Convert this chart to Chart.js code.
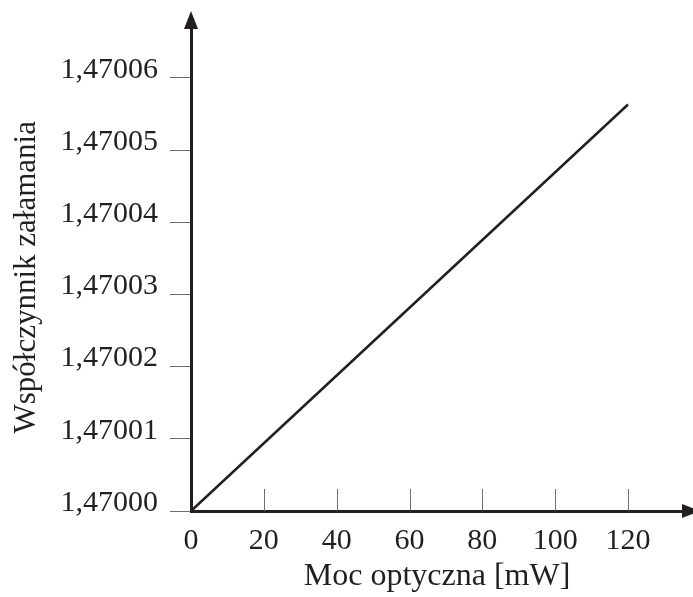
<!DOCTYPE html>
<html>
<head>
<meta charset="utf-8">
<script src="https://cdn.jsdelivr.net/npm/chart.js@4"></script>
<style>
  html, body { margin: 0; padding: 0; background: #fff; }
  #wrap { width: 693px; height: 597px; }
</style>
</head>
<body>
<div id="wrap"><canvas id="chart" width="693" height="597"></canvas></div>
<script>
/* -------------------------
   Data
   ------------------------- */
const powerMw = [0, 120];
const refIndex = [1.47000, 1.4700563];

const xTicks = [0, 20, 40, 60, 80, 100, 120];
const yTicks = [1.47000, 1.47001, 1.47002, 1.47003, 1.47004, 1.47005, 1.47006];
const yTickLabels = ['1,47000', '1,47001', '1,47002', '1,47003', '1,47004', '1,47005', '1,47006'];

const xMin = 0, xMax = 135.1;
const yMin = 1.47000, yMax = 1.4700669;

const ink = '#231f20';
const tickGray = '#6d6e71';
const serif = 'Liberation Serif';

/* -------------------------
   Arrowheads + inward x ticks
   ------------------------- */
const axisExtras = {
  id: 'axisExtras',
  afterDraw(chart) {
    const { ctx, chartArea: a, scales } = chart;
    const xs = scales.x;
    ctx.save();

    // small ticks pointing up from the x axis
    ctx.strokeStyle = tickGray;
    ctx.lineWidth = 1;
    ctx.beginPath();
    xs.ticks.forEach(t => {
      if (t.value === 0) return;
      const px = Math.round(xs.getPixelForValue(t.value)) + 0.5;
      ctx.moveTo(px, a.bottom);
      ctx.lineTo(px, a.bottom - 22);
    });
    ctx.stroke();

    // arrowheads
    ctx.fillStyle = ink;
    ctx.beginPath();
    ctx.moveTo(a.left, a.top - 17);
    ctx.lineTo(a.left - 7, a.top + 1);
    ctx.lineTo(a.left + 7, a.top + 1);
    ctx.closePath();
    ctx.fill();

    ctx.beginPath();
    ctx.moveTo(a.right + 17, a.bottom);
    ctx.lineTo(a.right - 1, a.bottom - 7);
    ctx.lineTo(a.right - 1, a.bottom + 7);
    ctx.closePath();
    ctx.fill();

    ctx.restore();
  }
};

const points = powerMw.map((p, i) => ({ x: p, y: refIndex[i] }));

new Chart(document.getElementById('chart'), {
  type: 'line',
  data: {
    datasets: [{
      data: points,
      borderColor: ink,
      borderWidth: 2.5,
      pointRadius: 0,
      tension: 0,
      clip: false
    }]
  },
  options: {
    responsive: false,
    animation: false,
    layout: { padding: { top: 26, right: 10, bottom: 0, left: 0 } },
    plugins: {
      legend: { display: false },
      tooltip: { enabled: false }
    },
    scales: {
      x: {
        type: 'linear',
        min: xMin,
        max: xMax,
        afterBuildTicks: (scale) => { scale.ticks = xTicks.map(v => ({ value: v })); },
        afterFit: (scale) => { scale.height = 86; },
        grid: { display: false, drawTicks: false, tickLength: 0 },
        border: { display: true, color: ink, width: 3 },
        ticks: {
          color: ink,
          padding: 12,
          maxRotation: 0,
          font: { family: serif, size: 30 },
          callback: (v) => String(v)
        },
        title: {
          display: true,
          text: 'Moc optyczna [mW]',
          color: ink,
          font: { family: serif, size: 32 },
          padding: { top: 0, bottom: 1 }
        }
      },
      y: {
        type: 'linear',
        min: yMin,
        max: yMax,
        afterBuildTicks: (scale) => { scale.ticks = yTicks.map(v => ({ value: v })); },
        afterFit: (scale) => { scale.width = 191; },
        grid: {
          drawOnChartArea: false,
          drawTicks: true,
          tickLength: 21,
          color: tickGray,
          lineWidth: 1
        },
        border: { display: true, color: ink, width: 3 },
        ticks: {
          color: ink,
          padding: 12,
          font: { family: serif, size: 30, lineHeight: '16px' },
          // second empty line lifts the label so it sits on its tick
          callback: (v, i) => [yTickLabels[i], '']
        },
        title: {
          display: true,
          // trailing spaces nudge the centred title a little toward the bottom
          text: 'Współczynnik załamania  ',
          color: ink,
          font: { family: serif, size: 31 },
          padding: { top: 8, bottom: 0 }
        }
      }
    }
  },
  plugins: [axisExtras]
});
</script>
</body>
</html>
